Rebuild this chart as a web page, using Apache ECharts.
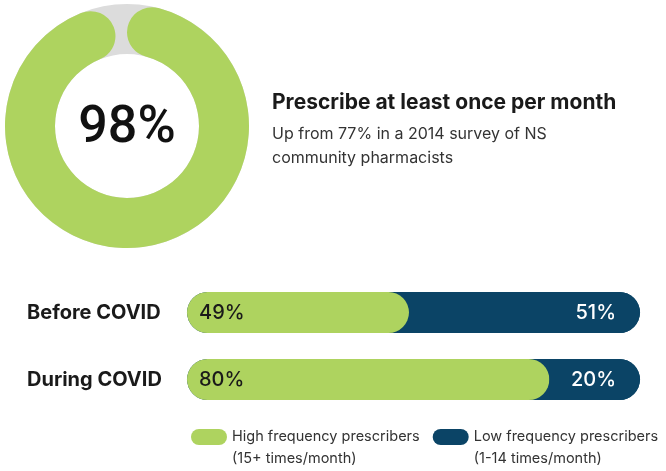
<!DOCTYPE html>
<html>
<head>
<meta charset="utf-8">
<script src="https://cdn.jsdelivr.net/npm/echarts@6/dist/echarts.min.js"></script>
<style>
  html, body { margin: 0; padding: 0; background: #fff; }
  #chart { width: 666px; height: 471px; }
</style>
</head>
<body>
<div id="chart"></div>
<script>
  // donut
  const shareMonthly = [98]
  // stacked bars
  const periods = ['Before COVID', 'During COVID']
  const highFreq = [49, 80]
  const lowFreq = [51, 20]
  const seriesNames = ['High frequency prescribers\n(15+ times/month)', 'Low frequency prescribers\n(1-14 times/month)']

  const green = '#aed35f'
  const navy = '#0b4466'
  const font = 'Inter'

  let myChart = echarts.init(document.getElementById('chart'))
  let pill = 'path://M8,0 H28 A8,8 0 0 1 28,16 H8 A8,8 0 0 1 8,0 Z'

  let option = {
    backgroundColor: '#fff',
    title: {
      left: 267,
      top: 87,
      text: 'Prescribe at least once per month',
      subtext: 'Up from 77% in a 2014 survey of NS\ncommunity pharmacists',
      itemGap: 9,
      textStyle: { fontFamily: font, fontSize: 21, fontWeight: 'bold', color: '#1a1a1a' },
      subtextStyle: { fontFamily: font, fontSize: 16, color: '#333', lineHeight: 24 }
    },
    graphic: [{
      type: 'text',
      x: 127,
      y: 129,
      style: {
        text: shareMonthly[0] + '%',
        align: 'center',
        verticalAlign: 'middle',
        fontFamily: 'Roboto',
        fontSize: 52,
        fontWeight: 500,
        fill: '#111'
      }
    }],
    legend: {
      left: 186,
      top: 399,
      width: 640,
      itemWidth: 36,
      itemHeight: 17,
      itemGap: 13,
      icon: pill,
      selectedMode: false,
      data: seriesNames,
      formatter: function (name) { return '\n' + name },
      textStyle: { fontFamily: font, fontSize: 14.5, color: '#333', lineHeight: 22 }
    },
    polar: { center: [127, 126], radius: [72, 122] },
    angleAxis: { min: 0, max: 100, startAngle: 90, show: false },
    radiusAxis: { type: 'category', data: ['monthly'], show: false },
    grid: { left: 187, right: 26, top: 279, height: 134 },
    xAxis: { type: 'value', min: 0, max: 100, show: false },
    yAxis: {
      type: 'category',
      inverse: true,
      data: periods,
      axisLine: { show: false },
      axisTick: { show: false },
      axisLabel: { align: 'left', margin: 160, fontFamily: font, fontSize: 20, fontWeight: 'bold', color: '#1a1a1a' }
    },
    series: [
      {
        type: 'bar',
        coordinateSystem: 'polar',
        data: shareMonthly,
        barCategoryGap: '0%',
        itemStyle: { color: green, borderRadius: 25 },
        showBackground: true,
        backgroundStyle: { color: '#dcdcdc' },
        silent: true
      },
      {
        name: seriesNames[0],
        type: 'bar',
        stack: 'total',
        barWidth: 41,
        data: highFreq,
        itemStyle: { color: green, borderRadius: 21 },
        showBackground: true,
        backgroundStyle: { color: navy, borderRadius: 21 },
        z: 2,
        label: {
          show: true, position: 'insideLeft', distance: 12, formatter: '{c}%',
          fontFamily: font, fontSize: 20, fontWeight: 500, color: '#1a1a1a'
        }
      },
      {
        name: seriesNames[1],
        type: 'bar',
        stack: 'total',
        data: lowFreq,
        itemStyle: { color: navy, borderRadius: [0, 21, 21, 0] },
        z: 3,
        label: {
          show: true, position: 'insideRight', distance: 24, formatter: '{c}%',
          fontFamily: font, fontSize: 20, fontWeight: 500, color: '#fff'
        }
      }
    ]
  }

  myChart.setOption(option)
</script>
</body>
</html>
